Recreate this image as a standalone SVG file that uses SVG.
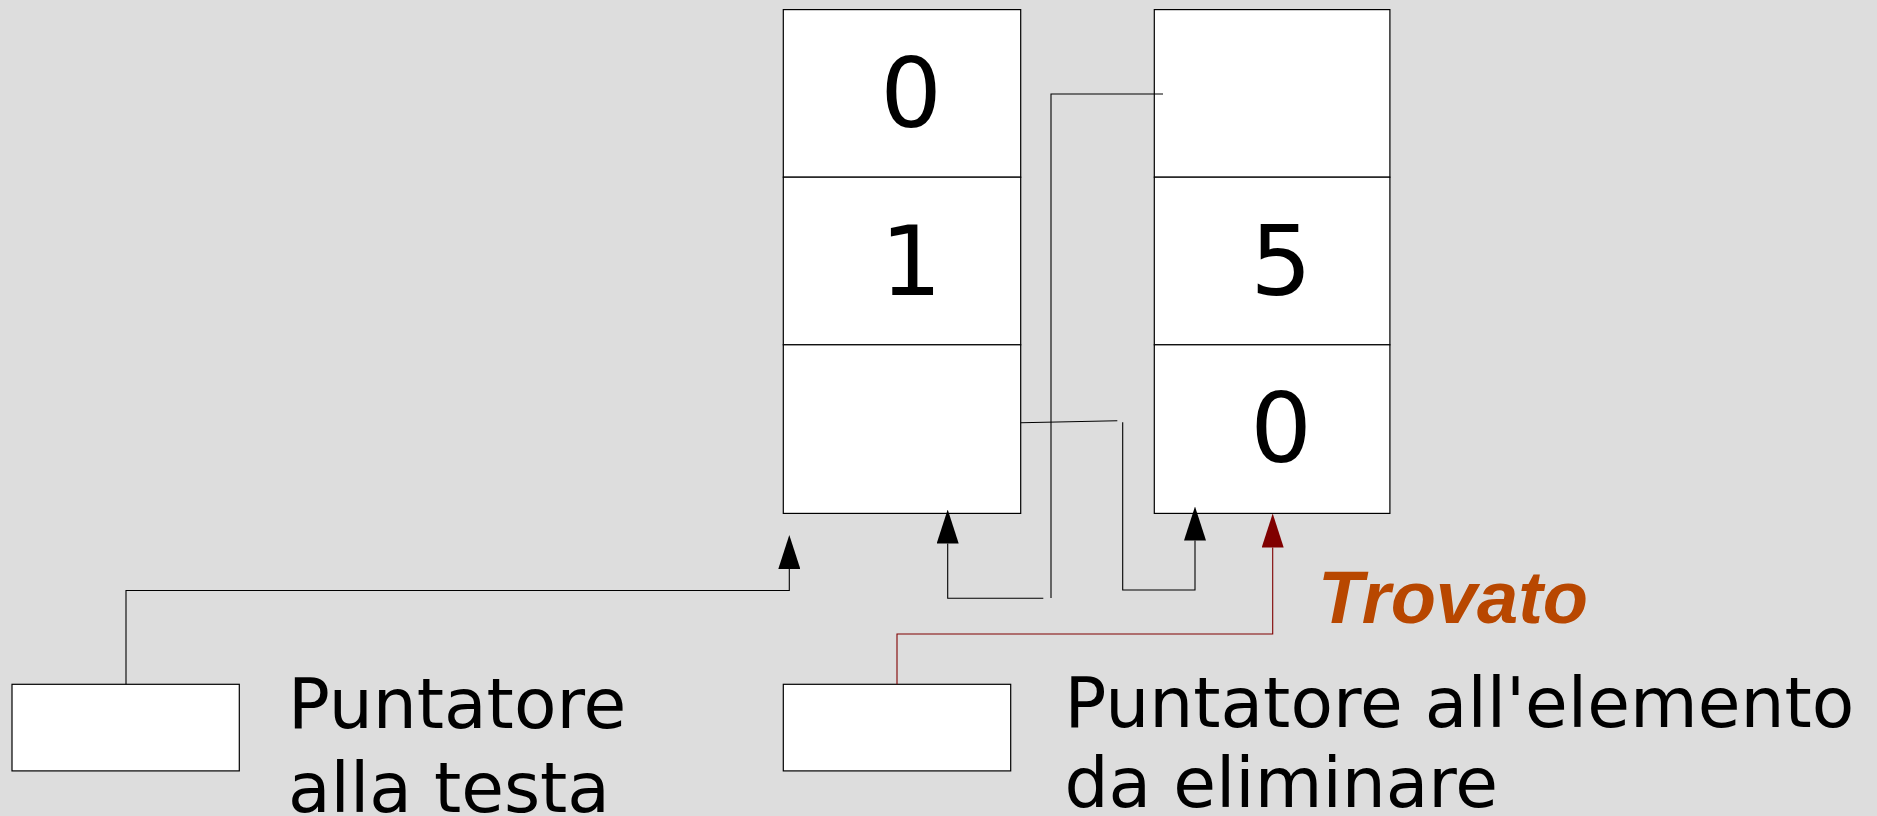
<svg xmlns="http://www.w3.org/2000/svg" width="1877" height="816" viewBox="0 0 1877 816">
  <defs>
    <style>
      .cell { fill: #ffffff; stroke: #000000; stroke-width: 1.2; }
      .ptr { fill: #ffffff; stroke: #000000; stroke-width: 1.2; }
      .num { font-family: "DejaVu Sans", "Noto Sans", sans-serif; font-size: 97px; fill: #000000; text-anchor: middle; }
      .lbl { font-family: "DejaVu Sans", "Noto Sans", sans-serif; font-size: 69.5px; fill: #000000; }
      .found { font-family: "Liberation Sans", Arial, sans-serif; font-size: 74px; font-weight: bold; font-style: italic; fill: #b84700; }
      .wire { fill: none; stroke: #000000; stroke-width: 1.1; }
      .wire-red { fill: none; stroke: #800000; stroke-width: 1.1; }
    </style>
    <marker id="arrow" viewBox="0 0 34 22" refX="0" refY="11" markerWidth="34" markerHeight="22" markerUnits="userSpaceOnUse" orient="auto">
      <path d="M0,0 L34,11 L0,22 z" fill="#000000"/>
    </marker>
    <marker id="arrow-red" viewBox="0 0 34 22" refX="0" refY="11" markerWidth="34" markerHeight="22" markerUnits="userSpaceOnUse" orient="auto">
      <path d="M0,0 L34,11 L0,22 z" fill="#800000"/>
    </marker>
  </defs>

  <rect x="0" y="0" width="1877" height="816" fill="#dddddd"/>

  <g id="node-left">
    <rect class="cell" x="783.3" y="9.6" width="237.4" height="167.6"/>
    <rect class="cell" x="783.3" y="177.2" width="237.4" height="167.6"/>
    <rect class="cell" x="783.3" y="344.8" width="237.4" height="168.6"/>
    <text class="num" x="911" y="127">0</text>
    <text class="num" x="911" y="295">1</text>
  </g>

  <g id="node-right">
    <rect class="cell" x="1154.3" y="9.6" width="235.6" height="167.6"/>
    <rect class="cell" x="1154.3" y="177.2" width="235.6" height="167.6"/>
    <rect class="cell" x="1154.3" y="344.8" width="235.6" height="168.6"/>
    <text class="num" x="1281" y="295">5</text>
    <text class="num" x="1281" y="462">0</text>
  </g>

  <g id="node-head">
    <rect class="ptr" x="12" y="684.3" width="227.3" height="86.6"/>
    <text class="lbl" x="288" y="728">Puntatore</text>
    <text class="lbl" x="288" y="812">alla testa</text>
  </g>

  <g id="node-target">
    <rect class="ptr" x="783.3" y="684.3" width="227.4" height="86.6"/>
    <text class="lbl" x="1064.5" y="726.5">Puntatore all'elemento</text>
    <text class="lbl" x="1064.5" y="807">da eliminare</text>
  </g>

  <g id="label-found">
    <text class="found" x="1318" y="622.7">Trovato</text>
  </g>

  <g id="connectors">
    <path class="wire" d="M126,684.3 V590.5 H789.3 V569" marker-end="url(#arrow)"/>
    <path class="wire" d="M1163,94 H1051 V598"/>
    <path class="wire" d="M1043.3,598.3 H947.7 V543.5" marker-end="url(#arrow)"/>
    <path class="wire" d="M1020.7,422.7 L1117.3,420.7"/>
    <path class="wire" d="M1122.7,422.3 V590 H1195 V540.5" marker-end="url(#arrow)"/>
    <path class="wire-red" d="M897,684.3 V634 H1272.7 V547.5" marker-end="url(#arrow-red)"/>
  </g>
</svg>
